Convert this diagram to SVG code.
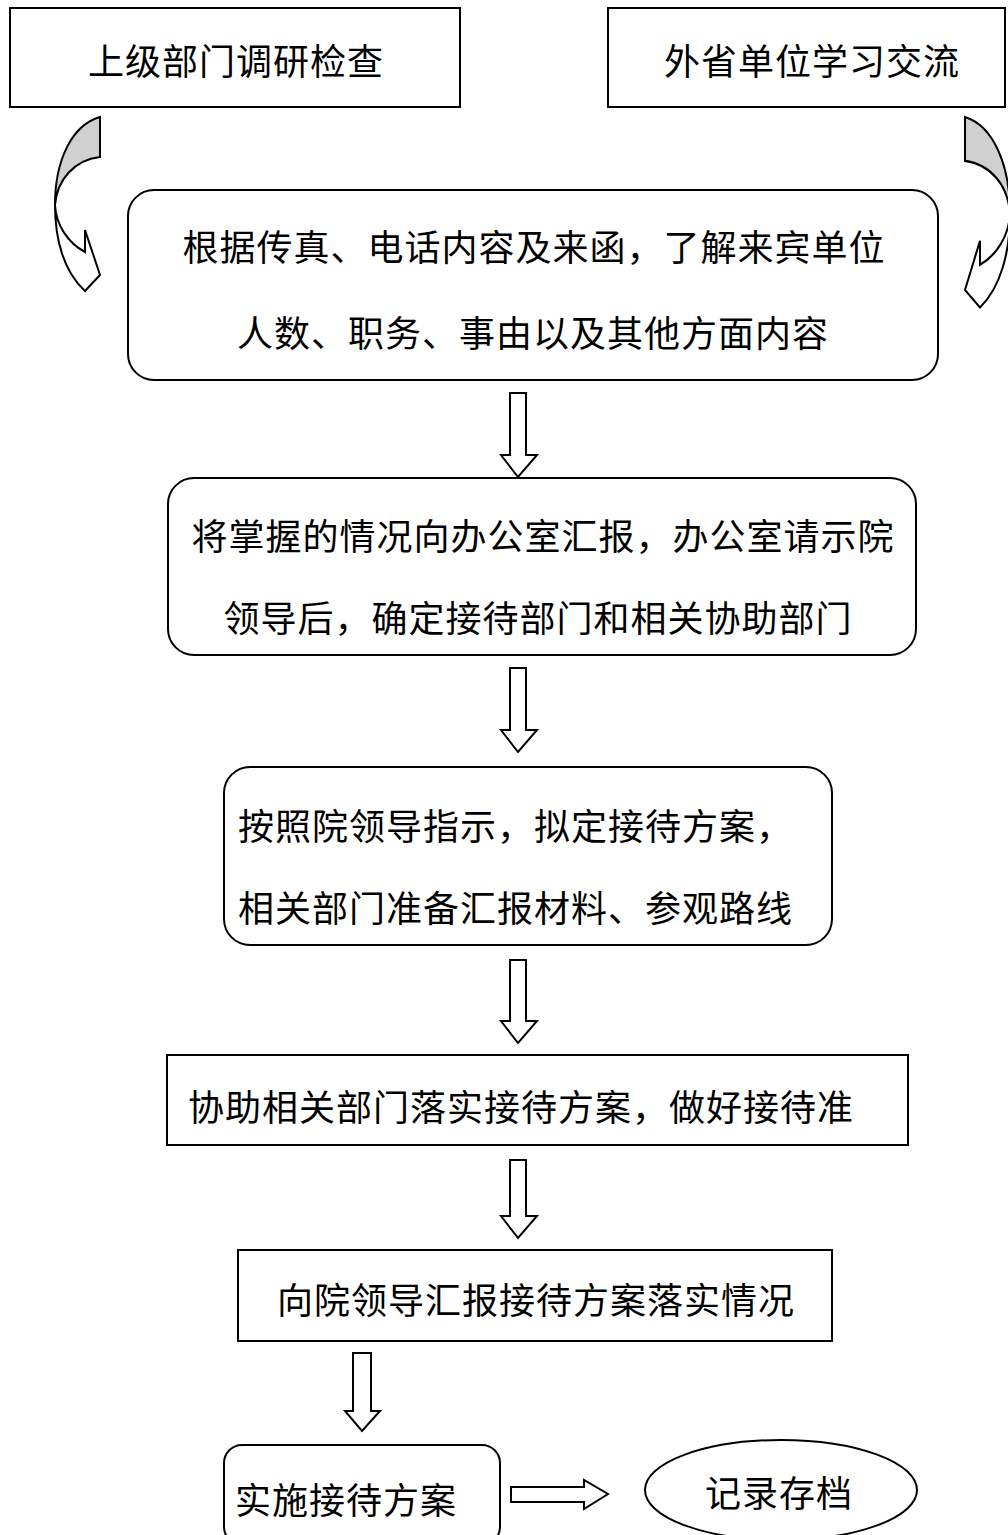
<svg xmlns="http://www.w3.org/2000/svg" width="1008" height="1535" viewBox="0 0 1008 1535">
<style>
.box{fill:#fff;stroke:#000;stroke-width:2}
.t{font-family:"Noto Sans CJK SC","Noto Sans",sans-serif;font-size:36px;fill:#000;letter-spacing:1px}
.c{text-anchor:middle}
.arr{fill:#fff;stroke:#000;stroke-width:2;stroke-linejoin:miter}
.shade{fill:#d0d0d0;stroke:#000;stroke-width:2}
</style>
<defs>
<g id="curved">
<path class="arr" d="M55,205 C55,240 64,272 85,291 L100,275 L85,230 L85,252 C68,243 56,225 55,205 Z"/>
<path class="shade" d="M100,117 L100,157 C74,160 57,180 55,205 C55,160 72,125 100,117 Z"/>
</g>
</defs>
<g id="n1"><rect class="box" x="10" y="8" width="450" height="99"/><text class="t c" x="236" y="75">上级部门调研检查</text></g>
<g id="n2"><rect class="box" x="608" y="8" width="397" height="99"/><text class="t c" x="812" y="75">外省单位学习交流</text></g>
<g id="n3"><rect class="box" x="128" y="190" width="810" height="190" rx="26"/><text class="t c" x="534" y="261">根据传真、电话内容及来函，了解来宾单位</text><text class="t c" x="533" y="347">人数、职务、事由以及其他方面内容</text></g>
<g id="n4"><rect class="box" x="168" y="478" width="748" height="177" rx="26"/><text class="t c" x="543" y="550">将掌握的情况向办公室汇报，办公室请示院</text><text class="t c" x="538" y="632">领导后，确定接待部门和相关协助部门</text></g>
<g id="n5"><rect class="box" x="224" y="767" width="608" height="178" rx="26"/><text class="t" x="238" y="840">按照院领导指示，拟定接待方案，</text><text class="t" x="238" y="922">相关部门准备汇报材料、参观路线</text></g>
<g id="n6"><rect class="box" x="167" y="1055" width="741" height="90"/><text class="t" x="188" y="1121">协助相关部门落实接待方案，做好接待准</text></g>
<g id="n7"><rect class="box" x="238" y="1250" width="594" height="91"/><text class="t c" x="536" y="1314">向院领导汇报接待方案落实情况</text></g>
<g id="n8"><rect class="box" x="224" y="1445" width="276" height="100" rx="18"/><text class="t" x="235" y="1514">实施接待方案</text></g>
<g id="n9"><ellipse class="box" cx="781" cy="1490" rx="136" ry="50"/><text class="t c" x="779" y="1507">记录存档</text></g>
<g id="connectors">
<use href="#curved"/>
<use href="#curved" transform="translate(1065,117) scale(-1,1.095) translate(0,-117)"/>
<path class="arr" d="M510,393 L526,393 L526,455 L537,455 L518,477 L501,455 L510,455 Z"/>
<path class="arr" d="M510,668 L526,668 L526,730 L537,730 L518,752 L501,730 L510,730 Z"/>
<path class="arr" d="M510,960 L526,960 L526,1021 L537,1021 L518,1043 L501,1021 L510,1021 Z"/>
<path class="arr" d="M510,1160 L526,1160 L526,1216 L537,1216 L518,1238 L501,1216 L510,1216 Z"/>
<path class="arr" d="M353,1353 L371,1353 L371,1411 L380,1411 L362,1431 L345,1411 L353,1411 Z"/>
<path class="arr" d="M511,1487 L584,1487 L584,1480 L608,1494 L584,1509 L584,1502 L511,1502 Z"/>
</g>
</svg>
